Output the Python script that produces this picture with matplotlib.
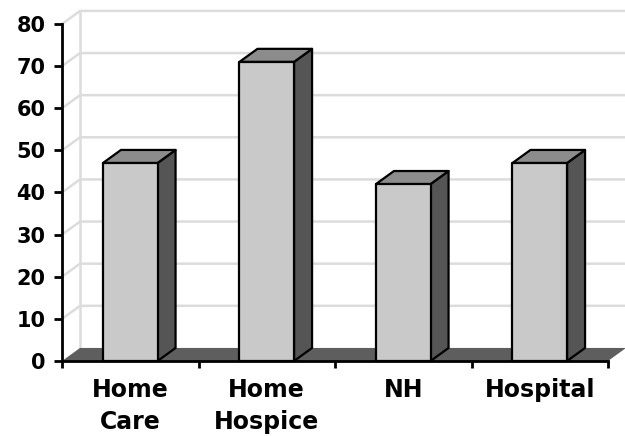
import matplotlib.pyplot as plt
from matplotlib.patches import Polygon

categories = ["Home\nCare", "Home\nHospice", "NH", "Hospital"]
values = [47, 71, 42, 47]
yticks = [0, 10, 20, 30, 40, 50, 60, 70, 80]

plt.rcParams['font.family'] = ['DejaVu Sans']

fig = plt.figure(figsize=(6.25, 4.36), dpi=100)
ax = fig.add_axes([0.0992, 0.172, 0.8736, 0.773])
ax.set_xlim(-0.5, 3.5)
ax.set_ylim(0, 80)

# fake depth of the 3d box, in data units
dx, dy = 0.132, 3.1
x0, x1 = -0.5, 3.5
grid_c = "#dcdcdc"

# back wall + side wall grid
for y in yticks[1:]:
    ax.plot([x0, x0 + dx, x1 + dx], [y, y + dy, y + dy], color=grid_c, lw=1.8,
            clip_on=False, zorder=1)
ax.plot([x0 + dx, x0 + dx], [dy, 80 + dy], color=grid_c, lw=1.8, clip_on=False, zorder=1)
ax.plot([x1 + dx, x1 + dx], [dy, 80 + dy], color=grid_c, lw=1.8, clip_on=False, zorder=1)

# floor
ax.add_patch(Polygon([(x0, 0), (x1, 0), (x1 + dx, dy), (x0 + dx, dy)],
                     closed=True, facecolor="#5e5e5e", edgecolor="none",
                     clip_on=False, zorder=2))

w = 0.40
for i, h in enumerate(values):
    l, r = i - w / 2, i + w / 2
    kw = dict(closed=True, edgecolor="black", lw=1.6, clip_on=False, zorder=3,
              joinstyle="round")
    ax.add_patch(Polygon([(r, 0), (r + dx, dy), (r + dx, h + dy), (r, h)],
                         facecolor="#555555", **kw))
    ax.add_patch(Polygon([(l, h), (r, h), (r + dx, h + dy), (l + dx, h + dy)],
                         facecolor="#8c8c8c", **kw))
    ax.add_patch(Polygon([(l, 0), (r, 0), (r, h), (l, h)],
                         facecolor="#c9c9c9", **kw))

for s in ["top", "right"]:
    ax.spines[s].set_visible(False)
for s in ["left", "bottom"]:
    ax.spines[s].set_linewidth(2)
    ax.spines[s].set_zorder(5)

ax.set_yticks(yticks)
ax.set_yticklabels([str(t) for t in yticks], fontsize=15, fontweight="bold")
ax.tick_params(axis="y", direction="out", length=6, width=2, pad=6)

ax.set_xticks(range(len(categories)))
ax.set_xticklabels(categories, fontsize=17, fontweight="bold", linespacing=1.45)
ax.tick_params(axis="x", which="major", length=0, pad=12)
ax.set_xticks([-0.5, 0.5, 1.5, 2.5, 3.5], minor=True)
ax.tick_params(axis="x", which="minor", direction="out", length=5, width=2)

fig.savefig("out.png", dpi=100)
